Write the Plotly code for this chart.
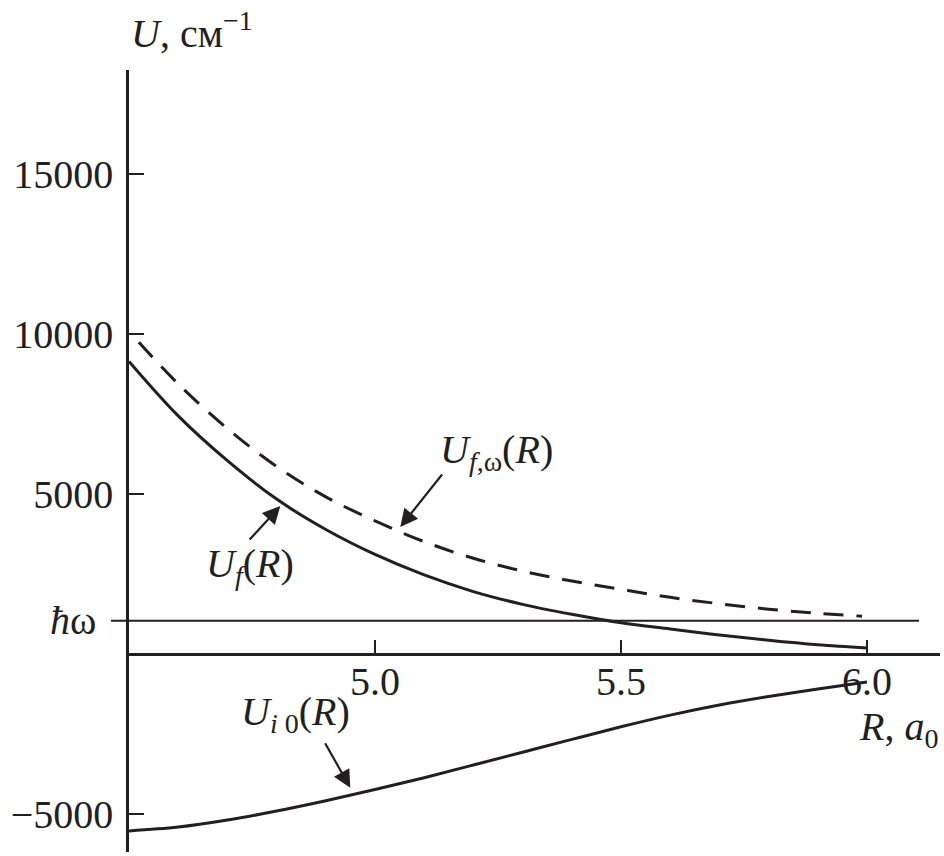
import plotly.graph_objects as go

# ---- data ----
R_F = [4.50, 4.60, 4.70, 4.80, 4.90, 5.00, 5.10, 5.20, 5.30, 5.40, 5.50, 5.60, 5.70, 5.80, 5.90, 6.00]
U_F = [9150, 7450, 6050, 4850, 3900, 3120, 2480, 1960, 1560, 1250, 985, 790, 605, 440, 300, 200]

R_FW = [4.52, 4.60, 4.70, 4.80, 4.90, 5.00, 5.10, 5.20, 5.30, 5.40, 5.50, 5.60, 5.70, 5.80, 5.90, 5.99]
U_FW = [9750, 8450, 7050, 5870, 4920, 4170, 3520, 3000, 2600, 2290, 2030, 1780, 1580, 1410, 1280, 1190]

R_I0 = [4.50, 4.60, 4.70, 4.80, 4.90, 5.00, 5.10, 5.20, 5.30, 5.40, 5.50, 5.60, 5.70, 5.80, 5.90, 6.00]
U_I0 = [-5520, -5400, -5179, -4898, -4576, -4227, -3858, -3460, -3060, -2660, -2265, -1900, -1585, -1320, -1085, -866]

HBAR_OMEGA = 1050

X_TICKS = [5.0, 5.5, 6.0]
X_TICKTEXT = ["5.0", "5.5", "6.0"]
Y_TICKS = [15000, 10000, 5000, -5000]
Y_TICKTEXT = ["15000", "10000", "5000", "\u22125000"]

# ---- layout geometry ----
W, H = 944, 856
ML, MR, MT, MB = 129, 4, 70, 4
X_RANGE = [4.5, 6.1484]
Y_RANGE = [-6178, 18259]
XPOS = (0 - Y_RANGE[0]) / (Y_RANGE[1] - Y_RANGE[0])

INK = "#231f20"
FONT = "Liberation Serif, Times New Roman, serif"
FS = 40

fig = go.Figure()
fig.add_trace(go.Scatter(x=R_F, y=U_F, mode="lines", line=dict(color=INK, width=3, shape="spline"),
                         showlegend=False, hoverinfo="skip"))
fig.add_trace(go.Scatter(x=R_FW, y=U_FW, mode="lines",
                         line=dict(color=INK, width=3, shape="spline", dash="20px,13px"),
                         showlegend=False, hoverinfo="skip"))
fig.add_trace(go.Scatter(x=R_I0, y=U_I0, mode="lines", line=dict(color=INK, width=3, shape="spline"),
                         showlegend=False, hoverinfo="skip"))

# hbar-omega level line (extends slightly left of the axis)
fig.add_shape(type="line", xref="paper", yref="y", x0=-18 / 811, x1=(919 - 129) / 811,
              y0=HBAR_OMEGA, y1=HBAR_OMEGA, line=dict(color=INK, width=2), layer="above")

ann_font = dict(family=FONT, size=FS, color=INK)

annotations = [
    # axis titles
    dict(text="<i>U</i>, см<sup>\u22121</sup>", xref="paper", yref="paper", x=0.0, y=1 + 12 / 782,
         xanchor="left", yanchor="bottom", showarrow=False, font=ann_font),
    dict(text="<i>R</i>, <i>a</i><sub>0</sub>", xref="paper", yref="y", x=1.0, y=-2330,
         xanchor="right", yanchor="middle", showarrow=False, font=ann_font),
    # hbar omega label
    dict(text="<i>ħ</i>ω", xref="paper", yref="y", x=-31 / 811, y=HBAR_OMEGA,
         xanchor="right", yanchor="middle", showarrow=False, font=ann_font),
    # curve labels
    dict(text="<i>U</i><sub><i>f</i>,ω</sub>(<i>R</i>)", xref="x", yref="y",
         x=4.5 + (496 - 128.7) / 492, y=(654.3 - 452) * 31.25,
         xanchor="center", yanchor="middle", showarrow=False, font=ann_font),
    dict(text="<i>U</i><sub><i>f</i></sub>(<i>R</i>)", xref="x", yref="y",
         x=4.5 + (250 - 128.7) / 492, y=(654.3 - 566) * 31.25,
         xanchor="center", yanchor="middle", showarrow=False, font=ann_font),
    dict(text="<i>U</i><sub><i>i</i> 0</sub>(<i>R</i>)", xref="x", yref="y",
         x=4.5 + (295 - 128.7) / 492, y=(654.3 - 714) * 31.25,
         xanchor="center", yanchor="middle", showarrow=False, font=ann_font),
    # arrows
    dict(text="", xref="x", yref="y", x=5.0514, y=3978, ax=43, ay=-54, showarrow=True,
         arrowhead=2, arrowsize=1.6, arrowwidth=2.2, arrowcolor=INK),
    dict(text="", xref="x", yref="y", x=4.8075, y=4634, ax=-32, ay=35, showarrow=True,
         arrowhead=2, arrowsize=1.6, arrowwidth=2.2, arrowcolor=INK),
    dict(text="", xref="x", yref="y", x=4.9498, y=-4172, ax=-26, ay=-46, showarrow=True,
         arrowhead=2, arrowsize=1.6, arrowwidth=2.2, arrowcolor=INK),
]

fig.update_layout(
    width=W, height=H,
    margin=dict(l=ML, r=MR, t=MT, b=MB),
    paper_bgcolor="white", plot_bgcolor="white",
    font=dict(family=FONT, size=FS, color=INK),
    annotations=annotations,
    xaxis=dict(range=X_RANGE, anchor="free", position=XPOS, showgrid=False, zeroline=False,
               showline=True, linecolor=INK, linewidth=2.5,
               ticks="inside", ticklen=14, tickwidth=2, tickcolor=INK,
               tickvals=X_TICKS, ticktext=X_TICKTEXT, ticklabelstandoff=-9,
               layer="below traces", tickfont=dict(family=FONT, size=FS, color=INK)),
    yaxis=dict(range=Y_RANGE, showgrid=False, zeroline=False,
               showline=True, linecolor=INK, linewidth=2.5,
               ticks="inside", ticklen=15, tickwidth=2, tickcolor=INK,
               tickvals=Y_TICKS, ticktext=Y_TICKTEXT, ticklabelstandoff=5,
               layer="below traces", tickfont=dict(family=FONT, size=FS, color=INK)),
)

fig.write_html("out.html", config={"displayModeBar": False},
               post_script="document.body.style.margin='0';document.body.style.overflow='hidden';")
